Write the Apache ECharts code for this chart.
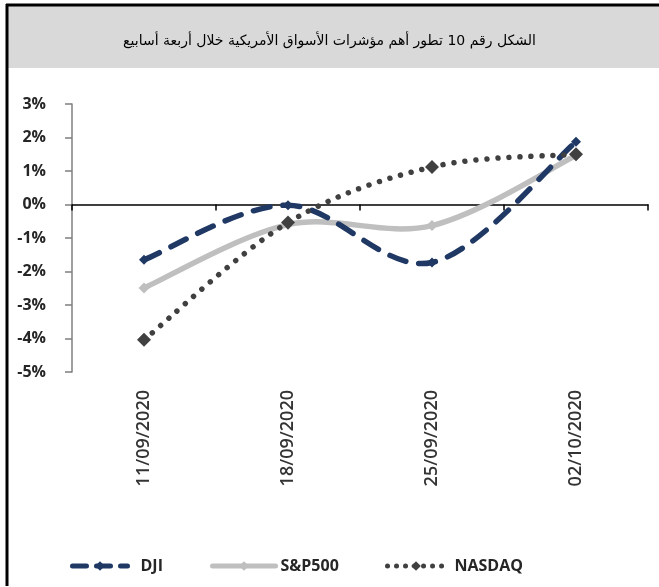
<!DOCTYPE html>
<html>
<head>
<meta charset="utf-8">
<script src="https://cdn.jsdelivr.net/npm/echarts@6/dist/echarts.min.js"></script>
<style>
html,body{margin:0;padding:0;background:#fff;}
#chart{width:659px;height:587px;}
</style>
</head>
<body>
<div id="chart"></div>
<script>
const titleText = 'الشكل رقم 10 تطور أهم مؤشرات الأسواق الأمريكية خلال أربعة أسابيع';
const categories = ['11/09/2020', '18/09/2020', '25/09/2020', '02/10/2020'];
const dji = [-1.65, -0.02, -1.73, 1.87];
const sp500 = [-2.49, -0.6, -0.63, 1.46];
const nasdaq = [-4.04, -0.54, 1.12, 1.5];
const yTicks = [-5, -4, -3, -2, -1, 0, 1, 2, 3];

const chart = echarts.init(document.getElementById('chart'), null, {renderer: 'canvas'});
const labelFont = '"Open Sans", "DejaVu Sans", sans-serif';

// Excel-like (Catmull-Rom) smoothed line through the library's coordinate system
function smoothCurve(values, lineStyle) {
  return function (params, api) {
    if (params.dataIndex !== 0) return null;
    const pts = values.map((v, i) => api.coord([i, v]));
    let d = 'M' + pts[0][0] + ' ' + pts[0][1];
    for (let i = 0; i < pts.length - 1; i++) {
      const p0 = pts[i - 1] || pts[i];
      const p1 = pts[i];
      const p2 = pts[i + 1];
      const p3 = pts[i + 2] || pts[i + 1];
      const c1x = p1[0] + (p2[0] - p0[0]) / 6, c1y = p1[1] + (p2[1] - p0[1]) / 6;
      const c2x = p2[0] - (p3[0] - p1[0]) / 6, c2y = p2[1] - (p3[1] - p1[1]) / 6;
      d += ' C' + c1x + ' ' + c1y + ' ' + c2x + ' ' + c2y + ' ' + p2[0] + ' ' + p2[1];
    }
    return {
      type: 'path',
      shape: {pathData: d},
      style: Object.assign({fill: null}, lineStyle)
    };
  };
}

const djiStyle = {stroke: '#1f3864', lineWidth: 5.5, lineDash: [17, 13], lineCap: 'round'};
const spStyle = {stroke: '#bfbfbf', lineWidth: 5.5, lineCap: 'round', lineJoin: 'round'};
const ndStyle = {stroke: '#404040', lineWidth: 5.5, lineDash: [0.01, 11], lineCap: 'round'};

const option = {
  animation: false,
  backgroundColor: '#ffffff',
  graphic: [
    {type: 'rect', z: -10, shape: {x: 8, y: 6, width: 651, height: 62}, style: {fill: '#d9d9d9'}},
    {type: 'line', z: 10, shape: {x1: 7, y1: 4, x2: 7, y2: 586}, style: {stroke: '#000', lineWidth: 3}},
    {type: 'line', z: 10, shape: {x1: 6, y1: 5, x2: 659, y2: 5}, style: {stroke: '#000', lineWidth: 3}}
  ],
  title: {
    text: titleText,
    left: 'center',
    top: 29,
    textStyle: {fontFamily: '"DejaVu Sans", sans-serif', fontSize: 14, fontWeight: 'normal', color: '#000'}
  },
  grid: {left: 72, right: 11, top: 104, bottom: 215, containLabel: false},
  legend: [
    {data: ['DJI'], left: 65, top: 553, itemWidth: 55, itemHeight: 12,
     lineStyle: {color: '#1f3864', width: 5, type: [14, 10], cap: 'round', opacity: 1},
     textStyle: {fontFamily: labelFont, fontSize: 16, fontWeight: 'bold', color: '#262626', padding: [0,0,0,8]}},
    {data: ['S&P500'], left: 205, top: 553, itemWidth: 63, itemHeight: 12,
     lineStyle: {color: '#bfbfbf', width: 5, type: 'solid', cap: 'round', opacity: 1},
     textStyle: {fontFamily: labelFont, fontSize: 16, fontWeight: 'bold', color: '#262626'}},
    {data: ['NASDAQ'], left: 380, top: 553, itemWidth: 57, itemHeight: 12,
     lineStyle: {color: '#404040', width: 5, type: [0.01, 9], cap: 'round', opacity: 1},
     textStyle: {fontFamily: labelFont, fontSize: 16, fontWeight: 'bold', color: '#262626', padding: [0,0,0,5]}}
  ],
  xAxis: [
    {
      type: 'category', data: categories, boundaryGap: true,
      axisLine: {onZero: true, lineStyle: {color: '#000', width: 1.5}},
      axisTick: {show: true, interval: 0, length: 6, lineStyle: {color: '#000', width: 1.5}},
      axisLabel: {show: false},
      splitLine: {show: false}
    },
    {
      type: 'category', data: categories, boundaryGap: true, position: 'bottom',
      axisLine: {show: false, onZero: false},
      axisTick: {show: false},
      axisLabel: {rotate: 90, interval: 0, margin: 18, fontFamily: labelFont, fontSize: 18, fontWeight: 600, color: '#333'},
      splitLine: {show: false}
    }
  ],
  yAxis: {
    type: 'value', min: yTicks[0], max: yTicks[yTicks.length - 1], interval: 1,
    axisLine: {show: true, lineStyle: {color: '#7f7f7f', width: 1.5}},
    axisTick: {show: true, length: 7, lineStyle: {color: '#7f7f7f', width: 1.5}},
    axisLabel: {formatter: '{value}%', margin: 26, fontFamily: labelFont, fontSize: 16, fontWeight: 'bold', color: '#262626'},
    splitLine: {show: false}
  },
  series: [
    {name: 'DJI-curve', type: 'custom', z: 3, silent: true, clip: false,
     data: dji.map((v, i) => [i, v]), encode: {x: 0, y: 1}, renderItem: smoothCurve(dji, djiStyle)},
    {name: 'S&P500-curve', type: 'custom', z: 2, silent: true, clip: false,
     data: sp500.map((v, i) => [i, v]), encode: {x: 0, y: 1}, renderItem: smoothCurve(sp500, spStyle)},
    {name: 'NASDAQ-curve', type: 'custom', z: 4, silent: true, clip: false,
     data: nasdaq.map((v, i) => [i, v]), encode: {x: 0, y: 1}, renderItem: smoothCurve(nasdaq, ndStyle)},
    {
      name: 'DJI', type: 'line', data: dji, z: 5,
      symbol: 'diamond', symbolSize: 10,
      itemStyle: {color: '#1f3864'},
      lineStyle: {color: '#1f3864', width: 5, type: [14, 10], cap: 'round', opacity: 0}
    },
    {
      name: 'S&P500', type: 'line', data: sp500, z: 5,
      symbol: 'diamond', symbolSize: 11,
      itemStyle: {color: '#bfbfbf'},
      lineStyle: {color: '#bfbfbf', width: 5, cap: 'round', opacity: 0}
    },
    {
      name: 'NASDAQ', type: 'line', data: nasdaq, z: 6,
      symbol: 'diamond', symbolSize: 14,
      itemStyle: {color: '#404040'},
      lineStyle: {color: '#404040', width: 5, type: [0.01, 9], cap: 'round', opacity: 0}
    }
  ]
};
chart.setOption(option);
</script>
</body>
</html>
